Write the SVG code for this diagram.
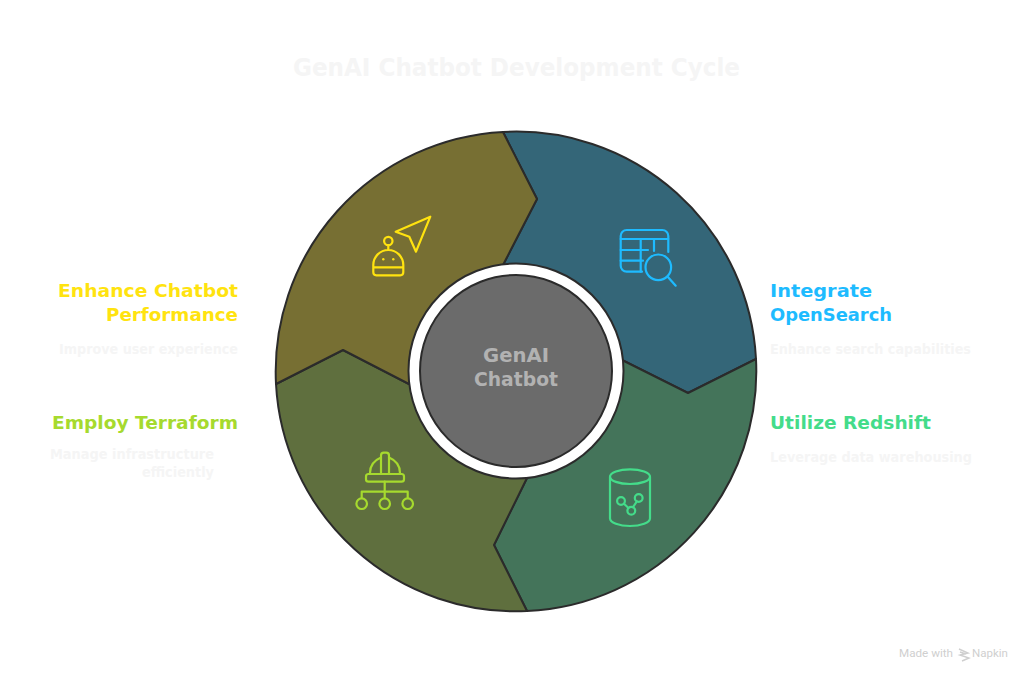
<svg xmlns="http://www.w3.org/2000/svg" width="1032" height="681" viewBox="0 0 1032 681">
<style>
text{font-family:"DejaVu Sans","Liberation Sans",sans-serif}
.seg{stroke:#2b2b2b;stroke-width:2;stroke-linejoin:round}
.ic{fill:none;stroke-width:2.2;stroke-linecap:round;stroke-linejoin:round}
.h{font-size:18px;font-weight:700}
.d{font-size:14px;fill:#f5f5f5;font-weight:700}
</style>
<rect width="1032" height="681" fill="#fff"/>
<text id="title" x="293" y="76" font-size="24" font-weight="700" fill="#f5f5f5" textLength="447" lengthAdjust="spacingAndGlyphs">GenAI Chatbot Development Cycle</text>
<g id="connectors"></g>
<g id="node-opensearch">
<path class="seg" fill="#346678" d="M503,132A240,240 0 0 1 756,359L688,393L622,360L516,371L503,265L537,199Z"/>
<g class="ic" stroke="#1EBBFF">
<path d="M668.3,252V236A6,6 0 0 0 662.3,230H626.7A6,6 0 0 0 620.7,236V265.7A6,6 0 0 0 626.7,271.7H642"/>
<path d="M620.7,239H668.3M620.7,250H648M620.7,260.7H643M640.7,239V271.7M654,239V251"/>
<circle cx="658.3" cy="267.3" r="12.8"/>
<path d="M667.7,276.7L675.7,285.7"/>
</g>
<text class="h" fill="#1EBBFF" x="770" y="297" textLength="102" lengthAdjust="spacingAndGlyphs">Integrate</text>
<text class="h" fill="#1EBBFF" x="770" y="321" textLength="122" lengthAdjust="spacingAndGlyphs">OpenSearch</text>
<text class="d" x="770" y="354" textLength="201" lengthAdjust="spacingAndGlyphs">Enhance search capabilities</text>
</g>
<g id="node-redshift">
<path class="seg" fill="#44745A" d="M756,359A240,240 0 0 1 527,611L494,545L527,478L516,371L622,360L688,393Z"/>
<g class="ic" stroke="#44DC8A">
<ellipse cx="630" cy="476.7" rx="20" ry="7.3"/>
<path d="M610,476.7V518.5C610,522.5 619,526 630,526C641,526 650,522.5 650,518.5V476.7"/>
<circle cx="621" cy="501" r="3.9"/><circle cx="638.7" cy="498" r="3.9"/><circle cx="631.3" cy="510.7" r="3.9"/>
<path d="M624,503.7L628.5,508M633,507.2L636.8,501.5"/>
</g>
<text class="h" fill="#44DC8A" x="770" y="429" textLength="161" lengthAdjust="spacingAndGlyphs">Utilize Redshift</text>
<text class="d" x="770" y="462" textLength="202" lengthAdjust="spacingAndGlyphs">Leverage data warehousing</text>
</g>
<g id="node-terraform">
<path class="seg" fill="#5F6F3E" d="M527,611A240,240 0 0 1 276,384L343,350L409,384L516,371L527,478L494,545Z"/>
<g class="ic" stroke="#A6DA2E">
<rect x="366" y="474" width="38" height="7.7" rx="2.5"/>
<path d="M370,473C370,465 375,460 381,457.5M400,473C400,465 395,460 389,457.5"/>
<path d="M381,473V455.5A2.8,2.8 0 0 1 383.8,452.7H386.2A2.8,2.8 0 0 1 389,455.5V473"/>
<path d="M384.7,481.7V498M361.7,498V491.7H407.7V498"/>
<circle cx="361.7" cy="503.7" r="5.3"/><circle cx="384.7" cy="503.7" r="5.3"/><circle cx="407.7" cy="503.7" r="5.3"/>
</g>
<text class="h" fill="#A6DA2E" x="52" y="429" textLength="186" lengthAdjust="spacingAndGlyphs">Employ Terraform</text>
<text class="d" x="50" y="459" textLength="164" lengthAdjust="spacingAndGlyphs">Manage infrastructure</text>
<text class="d" x="142" y="477" textLength="72" lengthAdjust="spacingAndGlyphs">efficiently</text>
</g>
<g id="node-performance">
<path class="seg" fill="#776F33" d="M276,384A240,240 0 0 1 503,132L537,199L503,265L516,371L409,384L343,350Z"/>
<g class="ic" stroke="#FFE30F">
<path d="M430.3,216.7L395.7,231.7L409.3,236.7L416,251.7Z"/>
<circle cx="388.3" cy="241" r="4.2"/>
<path d="M388.3,245.2V250M373.3,267.3V265A15,15 0 0 1 403.3,265V272.3A3,3 0 0 1 400.3,275.3H376.3A3,3 0 0 1 373.3,272.3V267.3H403.3"/>
</g>
<circle cx="383.3" cy="259.3" r="1.2" fill="#FFE30F"/><circle cx="393.3" cy="259.3" r="1.2" fill="#FFE30F"/>
<text class="h" fill="#FFE30F" x="58" y="297" textLength="180" lengthAdjust="spacingAndGlyphs">Enhance Chatbot</text>
<text class="h" fill="#FFE30F" x="106" y="321" textLength="132" lengthAdjust="spacingAndGlyphs">Performance</text>
<text class="d" x="59" y="354" textLength="179" lengthAdjust="spacingAndGlyphs">Improve user experience</text>
</g>
<g id="node-center">
<circle cx="516" cy="371" r="107.5" fill="#fff" stroke="#2b2b2b" stroke-width="2"/>
<circle cx="516" cy="371" r="96" fill="#6B6B6B" stroke="#2b2b2b" stroke-width="2"/>
<text x="483" y="362" font-size="19" font-weight="700" fill="#b2b2b2" textLength="66" lengthAdjust="spacingAndGlyphs">GenAI</text>
<text x="474" y="386" font-size="19" font-weight="700" fill="#b2b2b2" textLength="84" lengthAdjust="spacingAndGlyphs">Chatbot</text>
</g>
<g id="watermark">
<text x="899" y="657" font-size="11" fill="#cfcfcf" style="font-family:Roboto,sans-serif" textLength="54" lengthAdjust="spacingAndGlyphs">Made with</text>
<path d="M959,649L968,653L960,655L969,658L962,661M960,652L966,654" fill="none" stroke="#cfcfcf" stroke-width="1.4"/>
<text x="972" y="657" font-size="11" fill="#cfcfcf" style="font-family:Roboto,sans-serif" textLength="36" lengthAdjust="spacingAndGlyphs">Napkin</text>
</g>
</svg>
